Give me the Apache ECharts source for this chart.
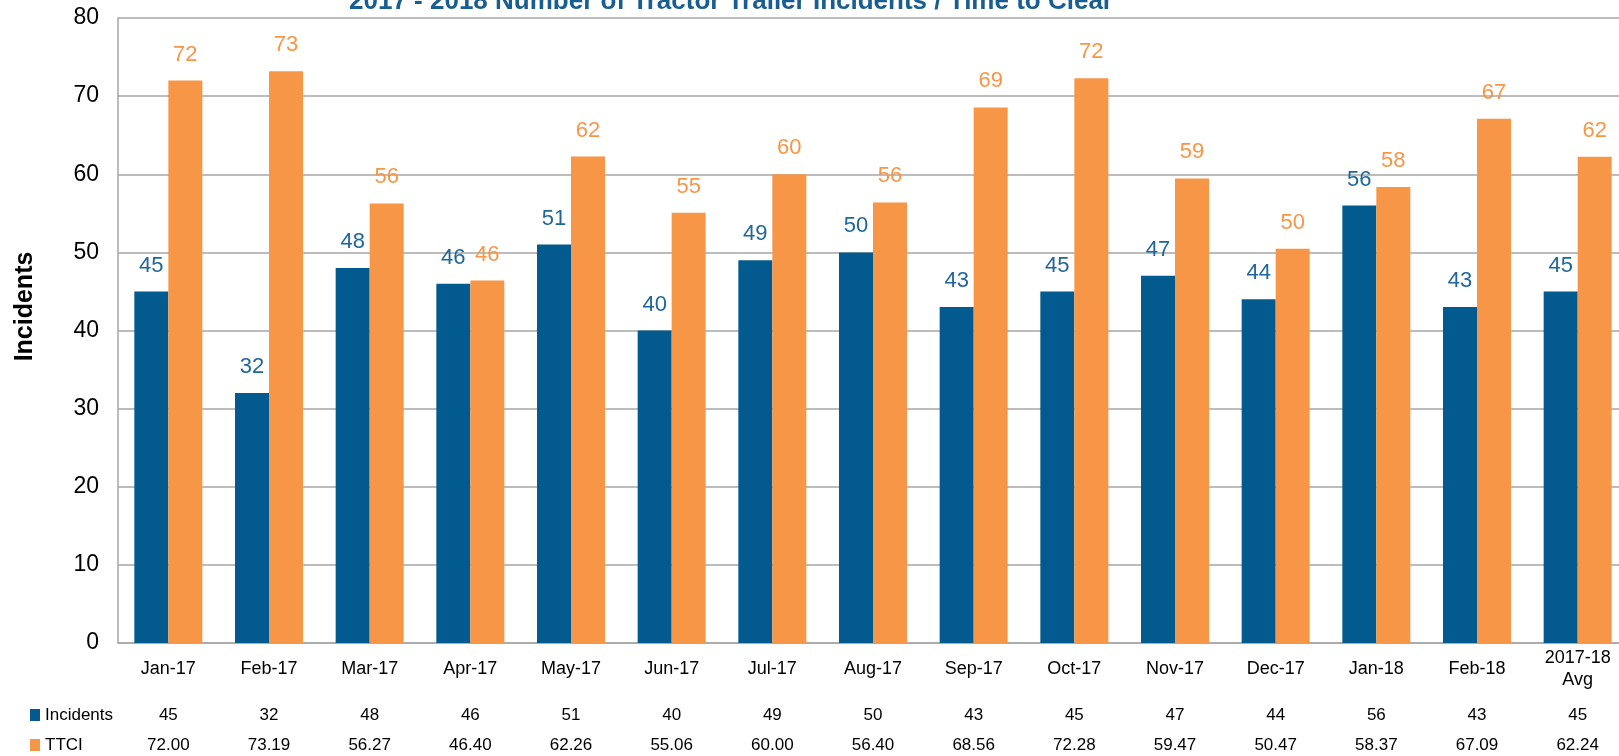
<!DOCTYPE html>
<html>
<head>
<meta charset="utf-8">
<script src="https://cdn.jsdelivr.net/npm/echarts@6/dist/echarts.min.js"></script>
<style>
  html, body { margin: 0; padding: 0; background: #ffffff; }
  #chart { width: 1619px; height: 756px; }
</style>
</head>
<body>
<div id="chart"></div>
<script>
// Monthly tractor trailer incidents and their time to clear (TTCI, minutes)
const categories = ['Jan-17', 'Feb-17', 'Mar-17', 'Apr-17', 'May-17', 'Jun-17', 'Jul-17',
  'Aug-17', 'Sep-17', 'Oct-17', 'Nov-17', 'Dec-17', 'Jan-18', 'Feb-18', '2017-18\nAvg'];
const incidents = [45, 32, 48, 46, 51, 40, 49, 50, 43, 45, 47, 44, 56, 43, 45];
const ttci = [72.00, 73.19, 56.27, 46.40, 62.26, 55.06, 60.00, 56.40, 68.56, 72.28, 59.47, 50.47, 58.37, 67.09, 62.24];
const yTicks = { min: 0, max: 80, interval: 10 };

const FONT = '"Liberation Sans", Arial, sans-serif';
const BLUE = '#035A8E';
const ORANGE = '#F79646';
const GRID_GRAY = '#A6A6A6';

const chart = echarts.init(document.getElementById('chart'), null, { renderer: 'canvas' });

// table rows under the category labels reuse the category axis layout
function tableAxis(values, offset) {
  return {
    type: 'category',
    data: values,
    gridIndex: 0,
    position: 'bottom',
    offset: offset,
    axisLine: { show: false },
    axisTick: { show: false },
    splitLine: { show: false },
    axisLabel: {
      interval: 0,
      margin: 0,
      verticalAlign: 'middle',
      fontFamily: FONT,
      fontSize: 17,
      color: '#000000'
    }
  };
}

function valueLabel(color) {
  return {
    show: true,
    position: 'top',
    distance: 15,
    fontFamily: FONT,
    fontSize: 22,
    color: color,
    formatter: p => Math.round(p.value)
  };
}

chart.setOption({
  animation: false,
  backgroundColor: '#ffffff',
  title: {
    text: '2017 - 2018 Number of Tractor Trailer Incidents / Time to Clear',
    left: 731,
    textAlign: 'center',
    top: -11,
    padding: 0,
    textStyle: {
      fontFamily: FONT,
      fontWeight: 'bold',
      fontSize: 26,
      lineHeight: 26,
      color: '#1A5E91'
    }
  },
  legend: {
    orient: 'vertical',
    left: 30,
    top: 706,
    padding: 0,
    itemGap: 12,
    itemWidth: 10,
    itemHeight: 12,
    icon: 'rect',
    textStyle: { fontFamily: FONT, fontSize: 17, lineHeight: 18, color: '#000000' },
    data: ['Incidents', 'TTCI']
  },
  // the plot runs slightly past the right edge of the page
  grid: { left: 118, top: 18, width: 1510, height: 625, containLabel: false, outerBoundsMode: 'none' },
  xAxis: [
    {
      type: 'category',
      data: categories,
      axisLine: { show: true, lineStyle: { color: GRID_GRAY, width: 1.5 } },
      axisTick: { show: false },
      axisLabel: {
        interval: 0,
        margin: 26,
        verticalAlign: 'middle',
        lineHeight: 22,
        fontFamily: FONT,
        fontSize: 18,
        color: '#000000'
      }
    },
    tableAxis(incidents.map(String), 72),
    tableAxis(ttci.map(v => v.toFixed(2)), 102)
  ],
  yAxis: {
    type: 'value',
    min: yTicks.min,
    max: yTicks.max,
    interval: yTicks.interval,
    name: 'Incidents',
    nameLocation: 'middle',
    nameRotate: 90,
    nameGap: 80,
    nameTextStyle: {
      fontFamily: FONT, fontWeight: 'bold', fontSize: 25, color: '#000000',
      padding: [0, 0, 0, 48]
    },
    axisLine: { show: true, lineStyle: { color: GRID_GRAY, width: 1.5 } },
    axisTick: { show: false },
    axisLabel: { margin: 19, fontFamily: FONT, fontSize: 23, color: '#000000' },
    splitLine: { show: true, lineStyle: { color: GRID_GRAY, width: 1.5 } }
  },
  series: [
    {
      name: 'Incidents',
      type: 'bar',
      data: incidents,
      barWidth: 34,
      barGap: '0%',
      itemStyle: { color: BLUE },
      label: valueLabel('#1F679A')
    },
    {
      name: 'TTCI',
      type: 'bar',
      data: ttci,
      barWidth: 34,
      barGap: '0%',
      itemStyle: { color: ORANGE },
      label: valueLabel(ORANGE)
    }
  ]
});
</script>
</body>
</html>
